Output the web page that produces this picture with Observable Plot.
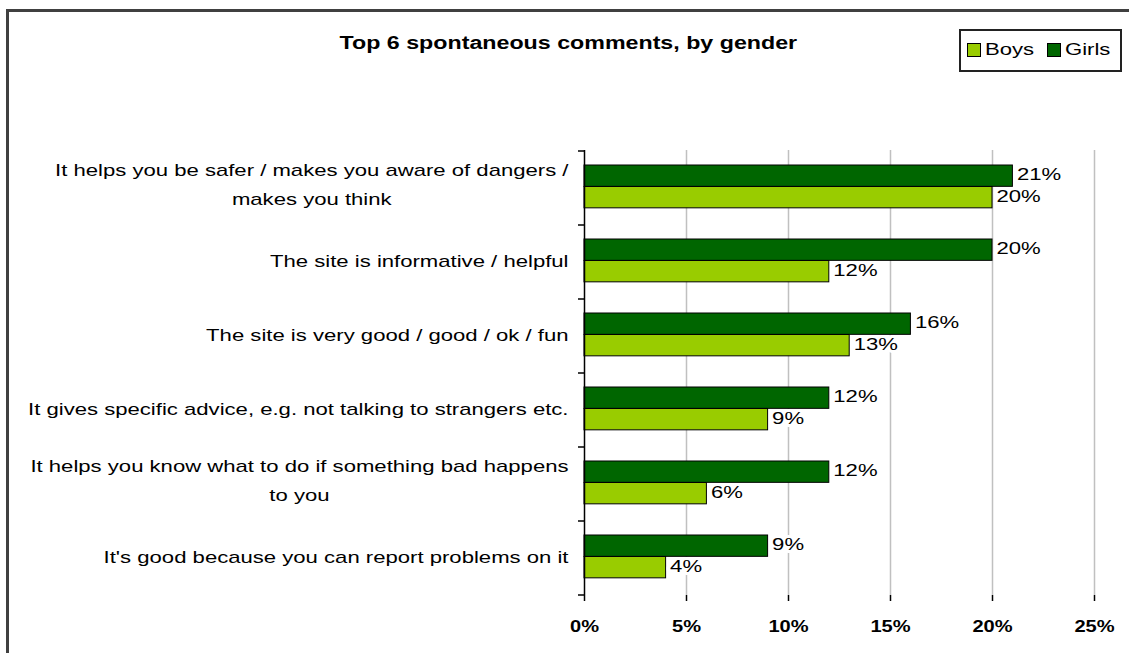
<!DOCTYPE html>
<html><head><meta charset="utf-8">
<script src="https://cdn.jsdelivr.net/npm/d3@7"></script>
<script src="https://cdn.jsdelivr.net/npm/@observablehq/plot@0.6"></script>
<style>
body{margin:0;background:#fff;font-family:"Liberation Sans",Arial,sans-serif;}
#wrap{position:relative;width:1129px;height:653px;overflow:hidden;background:#fff;}
#border{position:absolute;left:6px;top:9px;width:1300px;height:800px;border-left:3px solid #404040;border-top:3px solid #404040;}
#chart{position:absolute;left:0;top:0;}
#title{position:absolute;left:0;width:1136px;top:33px;text-align:center;font-weight:bold;font-size:18px;color:#000;}
#title span{display:inline-block;transform:scaleX(1.29);transform-origin:center;}
#legend{position:absolute;left:959px;top:29px;width:159px;height:39px;border:2px solid #222;background:#fff;font-size:17px;}
.sw{position:absolute;top:12px;width:12px;height:12px;border:1px solid #000;}
.lt{position:absolute;top:9px;line-height:19px;transform:scaleX(1.3);transform-origin:left center;white-space:nowrap;}
</style></head>
<body><div id="wrap"><div id="border"></div><div id="chart"></div>
<div id="title"><span></span></div>
<div id="legend"></div></div>
<script>
const titleText = "Top 6 spontaneous comments, by gender";
const categories = [
  "It helps you be safer / makes you aware of dangers /\nmakes you think",
  "The site is informative / helpful",
  "The site is very good / good / ok / fun",
  "It gives specific advice, e.g. not talking to strangers etc.",
  "It helps you know what to do if something bad happens\nto you",
  "It's good because you can report problems on it"
];
const seriesNames = ["Boys", "Girls"];
const boys = [20, 12, 13, 9, 6, 4];
const girls = [21, 20, 16, 12, 12, 9];
const xTicks = [0, 5, 10, 15, 20, 25];
const colors = {Boys: "#99cc00", Girls: "#006600"};

const rows = categories.map((c, i) => ({category: c, boys: boys[i], girls: girls[i]}));

const W = 1129, H = 653;
const mTop = 150, mBottom = 58, mLeft = 584, mRight = 35;
const bw = (H - mTop - mBottom) / categories.length;
const font = '"Liberation Sans", Arial, sans-serif';
const labelSize = 17;
const stretch = 1.3;      // horizontal stretch of the reference's lettering
const tickStretch = 1.18;

const ctx = document.createElement("canvas").getContext("2d");
ctx.font = `${labelSize}px ${font}`;
const maxW = s => Math.max(...s.split("\n").map(l => ctx.measureText(l).width)) * stretch;

const girlsTop = 14, split = 35.5, boysBottom = 57;

const labelMarks = categories.map(c => Plot.text([c], {
  y: d => d, frameAnchor: "left", text: d => d, textAnchor: "middle",
  dx: -16 - maxW(c) / 2, dy: c.includes("\n") ? -7 : -5, lineHeight: 1.7, fontSize: labelSize, fill: "#000"
}));

const plot = Plot.plot({
  width: W, height: H,
  marginTop: mTop, marginBottom: mBottom, marginLeft: mLeft, marginRight: mRight,
  style: {fontFamily: font, background: "transparent"},
  x: {domain: [0, 25], axis: null},
  y: {type: "band", domain: categories, padding: 0, axis: null},
  marks: [
    Plot.gridX(xTicks.slice(1), {stroke: "#c0c0c0", strokeOpacity: 1, strokeWidth: 1.5}),
    Plot.barX(rows, {y: "category", x: "girls", fill: colors.Girls, stroke: "#000", strokeWidth: 1,
      insetTop: girlsTop, insetBottom: bw - split}),
    Plot.barX(rows, {y: "category", x: "boys", fill: colors.Boys, stroke: "#000", strokeWidth: 1,
      insetTop: split, insetBottom: bw - boysBottom}),
    Plot.text(rows, {y: "category", x: "girls", text: d => d.girls + "%", textAnchor: "start", dx: 4,
      dy: (girlsTop + split) / 2 - bw / 2 - 2, fontSize: 17, fill: "#000", stroke: "#fff", strokeWidth: 6}),
    Plot.text(rows, {y: "category", x: "boys", text: d => d.boys + "%", textAnchor: "start", dx: 4,
      dy: (split + boysBottom) / 2 - bw / 2 - 1, fontSize: 17, fill: "#000", stroke: "#fff", strokeWidth: 6}),
    Plot.ruleX([0], {stroke: "#000", strokeWidth: 1.5}),
    Plot.axisX({ticks: xTicks, tickFormat: d => d + "%", tickSize: 6, tickPadding: 18, line: true,
      fontSize: 17, fontWeight: "bold", stroke: "#000", strokeWidth: 1.5, fill: "#000"}),
    ...labelMarks
  ]
});
document.getElementById("chart").appendChild(plot);

// stretch lettering horizontally like the reference
const svg = d3.select(plot);
svg.selectAll("text").each(function() {
  const isTick = !!this.closest('[aria-label="x-axis tick label"]');
  const k = isTick ? tickStretch : stretch;
  const tspans = this.querySelectorAll("tspan");
  const targets = tspans.length ? Array.from(tspans) : [this];
  targets.forEach(t => {
    const L = t.getComputedTextLength();
    if (L > 0) { t.setAttribute("textLength", L * k); t.setAttribute("lengthAdjust", "spacingAndGlyphs"); }
  });
});

// category boundary ticks on the y axis, drawn from Plot's own scales
const ys = plot.scale("y"), xs = plot.scale("x");
const x0 = xs.apply(0);
const bounds = categories.map(c => ys.apply(c)).concat([ys.apply(categories[categories.length - 1]) + ys.bandwidth]);
svg.append("g").selectAll("line").data(bounds).join("line")
  .attr("x1", x0 - 6).attr("x2", x0).attr("y1", d => d).attr("y2", d => d)
  .attr("stroke", "#000").attr("stroke-width", 1.5);

document.querySelector("#title span").textContent = titleText;
const lg = document.getElementById("legend");
const legendPos = {Boys: [6, 24], Girls: [86, 104]};
seriesNames.forEach(n => {
  const sw = document.createElement("div");
  sw.className = "sw"; sw.style.left = legendPos[n][0] + "px"; sw.style.background = colors[n];
  const t = document.createElement("div");
  t.className = "lt"; t.style.left = legendPos[n][1] + "px"; t.textContent = n;
  lg.appendChild(sw); lg.appendChild(t);
});
</script></body></html>
